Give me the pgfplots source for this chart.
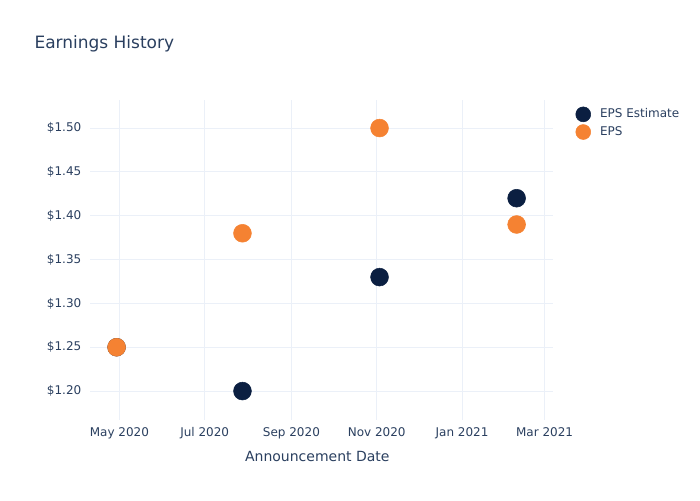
\documentclass[border=0pt]{standalone}
\usepackage{pgfplots}
\pgfplotsset{compat=1.18}
\usepgfplotslibrary{dateplot}
\usepackage{fontspec}
\setmainfont{DejaVu Sans}
\definecolor{txt}{HTML}{2A3F5F}
\definecolor{gridc}{HTML}{EBF0F8}
\definecolor{navy}{HTML}{0B1F41}
\definecolor{orng}{HTML}{F58232}
\begin{document}
\begin{tikzpicture}[x=0.75pt,y=0.75pt]
\path (-90,-80) rectangle (610,420);
\begin{axis}[
  at={(0,0)}, anchor=south west,
  scale only axis, width=347.25pt, height=240pt,
  date coordinates in=x,
  xmin=2020-04-10, xmax=2021-03-07,
  ymin=1.167, ymax=1.532,
  xtick={2020-05-01,2020-07-01,2020-09-01,2020-11-01,2021-01-01,2021-03-01},
  xticklabels={May 2020,Jul 2020,Sep 2020,Nov 2020,Jan 2021,Mar 2021},
  ytick={1.20,1.25,1.30,1.35,1.40,1.45,1.50},
  yticklabel={\$\pgfmathprintnumber[fixed,fixed zerofill,precision=2]{\tick}},
  /pgf/number format/assume math mode=true,
  axis line style={draw=none},
  major tick length=0pt,
  grid=major, major grid style={gridc, line width=0.8pt},
  tick label style={font=\fontsize{9}{10}\selectfont, text=txt},
  xticklabel style={yshift=-2pt},
  yticklabel style={xshift=-3pt},
  xlabel={Announcement Date},
  xlabel style={font=\fontsize{10.5}{12}\selectfont, text=txt, at={(0.491,-0.1125)}, anchor=center},
  legend style={draw=none, fill=none, at={(1.04,0.99)}, anchor=north west,
    font=\fontsize{9}{10}\selectfont, text=txt, row sep=1pt},
  legend image code/.code={\draw[#1, mark size=5.6pt] plot coordinates {(0.2cm,0cm)};},
  legend cell align=left,
  clip=false,
]
\addplot[only marks, mark=*, mark size=6.7pt, draw=navy, fill=navy]
  coordinates {(2020-04-29,1.25) (2020-07-28,1.20) (2020-11-03,1.33) (2021-02-09,1.42)};
\addlegendentry{\hspace{5pt}EPS Estimate}
\addplot[only marks, mark=*, mark size=6.7pt, draw=orng, fill=orng]
  coordinates {(2020-04-29,1.25) (2020-07-28,1.38) (2020-11-03,1.50) (2021-02-09,1.39)};
\addlegendentry{\hspace{5pt}EPS}
\node[anchor=west, text=txt, font=\fontsize{12.75}{14}\selectfont]
  at (axis description cs:-0.13,1.175) {Earnings History};
\end{axis}
\end{tikzpicture}
\end{document}
